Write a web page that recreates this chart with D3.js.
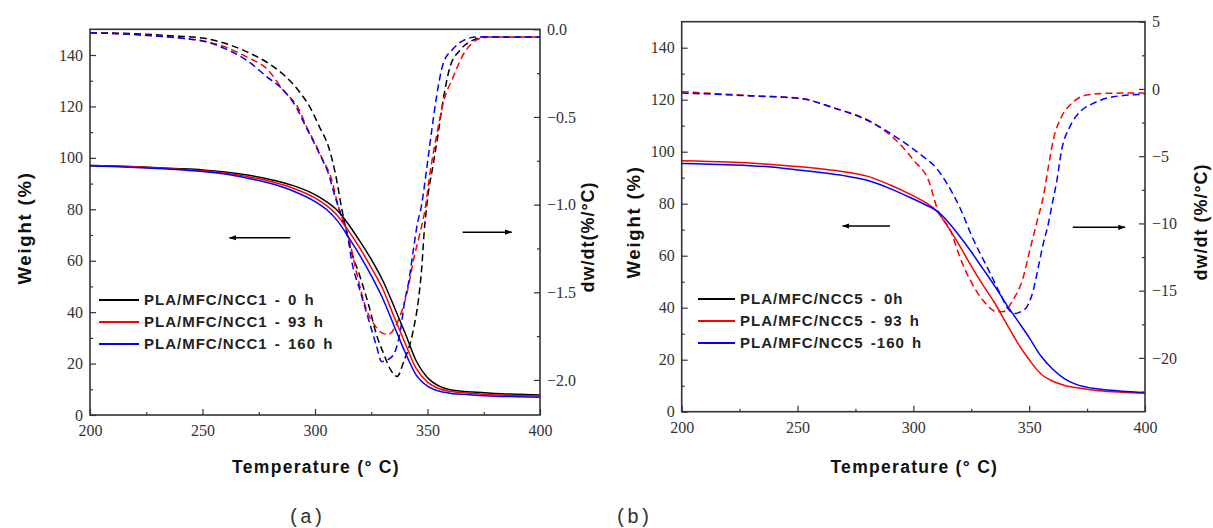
<!DOCTYPE html>
<html>
<head>
<meta charset="utf-8">
<script src="https://cdn.jsdelivr.net/npm/d3@7"></script>
<style>
  body { margin: 0; background: #fff; }
  svg { display: block; }
</style>
</head>
<body>
<svg id="chart" width="1213" height="528"></svg>
<script>
// ---- axis ticks ----
const tempTicks = [200, 250, 300, 350, 400];
const tempMinorTicks = [225, 275, 325, 375];
const weightTicks = [0, 20, 40, 60, 80, 100, 120, 140];
const weightMinorTicks = [10, 30, 50, 70, 90, 110, 130];
const dtgTicksA = [0, -0.5, -1.0, -1.5, -2.0];
const dtgMinorTicksA = [-0.25, -0.75, -1.25, -1.75];
const dtgTicksB = [5, 0, -5, -10, -15, -20];
const dtgMinorTicksB = [2.5, -2.5, -7.5, -12.5, -17.5, -22.5];

// ---- legend labels ----
const legendA = ["PLA/MFC/NCC1 - 0 h", "PLA/MFC/NCC1 - 93 h", "PLA/MFC/NCC1 - 160 h"];
const legendB = ["PLA/MFC/NCC5 - 0h", "PLA/MFC/NCC5 - 93 h", "PLA/MFC/NCC5 -160 h"];

// ---- (a) PLA/MFC/NCC1 : weight (%) vs temperature (°C) ----
const a_weight_0h = [[200,97],[210,96.8],[220,96.5],[230,96.2],[240,95.8],[250,95.3],[260,94.5],[270,93.3],[280,91.6],[290,89.3],[300,85.7],[305,83],[310,79.5],[315,74],[320,67.5],[325,60.5],[330,52.5],[335,42.5],[340,32],[345,21],[350,14.5],[355,11.3],[360,9.8],[370,8.9],[380,8.4],[390,8.1],[400,7.8]];
const a_weight_93h = [[200,97],[210,96.8],[220,96.5],[230,96.1],[240,95.6],[250,95.0],[260,94.1],[270,92.7],[280,90.9],[290,88.3],[300,84.4],[305,81.5],[310,77.5],[315,71.5],[320,64.8],[325,57.3],[330,49.3],[335,38.5],[340,28],[345,18],[350,12.8],[355,10.3],[360,9.2],[370,8.4],[380,7.9],[390,7.6],[400,7.4]];
const a_weight_160h = [[200,96.8],[210,96.6],[220,96.3],[230,95.9],[240,95.4],[250,94.7],[260,93.7],[270,92.1],[280,90.1],[290,87.2],[300,83],[305,80],[310,75.5],[315,69],[320,62],[325,54.2],[330,45.5],[335,35],[340,24.5],[345,15.5],[350,11.2],[355,9.3],[360,8.5],[370,7.8],[380,7.3],[390,7.1],[400,6.9]];

// ---- (a) derivative dw/dt (%/°C) ----
const a_dtg_0h = [[200,-0.02],[220,-0.025],[240,-0.04],[250,-0.05],[260,-0.08],[270,-0.13],[280,-0.2],[287,-0.27],[293,-0.355],[298,-0.45],[302,-0.557],[306,-0.67],[309,-0.82],[312,-1.03],[316,-1.26],[320,-1.41],[324,-1.58],[327.5,-1.75],[330.5,-1.85],[333.5,-1.94],[336.5,-1.98],[339.3,-1.9],[343.7,-1.715],[346,-1.54],[347.5,-1.35],[348.5,-1.16],[349.8,-0.99],[352.6,-0.765],[354.8,-0.59],[357,-0.40],[360,-0.215],[364.4,-0.12],[370,-0.063],[376,-0.044],[400,-0.044]];
const a_dtg_93h = [[200,-0.02],[220,-0.03],[240,-0.05],[250,-0.065],[260,-0.1],[270,-0.16],[279,-0.23],[286,-0.35],[292.6,-0.45],[296.3,-0.557],[300,-0.65],[303.7,-0.75],[306.7,-0.83],[310.4,-1.01],[315.6,-1.22],[318.5,-1.39],[322.9,-1.6],[326.7,-1.69],[329.5,-1.73],[332.5,-1.74],[337,-1.66],[341.5,-1.47],[343.7,-1.32],[346.7,-1.16],[349,-1.02],[351.1,-0.82],[354,-0.61],[357,-0.42],[361.5,-0.27],[365.2,-0.16],[369,-0.09],[373.3,-0.053],[380,-0.044],[400,-0.044]];
const a_dtg_160h = [[200,-0.02],[220,-0.03],[240,-0.05],[250,-0.067],[260,-0.11],[270,-0.18],[278.5,-0.27],[286.7,-0.357],[291.9,-0.45],[295.6,-0.547],[299.3,-0.64],[303,-0.737],[305.9,-0.82],[308.9,-0.955],[311.1,-1.04],[314.8,-1.2],[316.3,-1.32],[320,-1.49],[324.4,-1.68],[327.4,-1.81],[329.6,-1.895],[334,-1.87],[337.8,-1.73],[340,-1.54],[341.5,-1.45],[343.7,-1.26],[345.2,-1.13],[347.4,-1.0],[349.6,-0.80],[351.9,-0.575],[354,-0.385],[357,-0.195],[361.5,-0.11],[366,-0.063],[372,-0.044],[400,-0.044]];

// ---- (b) PLA/MFC/NCC5 : weight (%) vs temperature (°C) ----
const b_weight_93h = [[200,96.5],[220,96],[240,95],[250,94.3],[260,93.4],[270,92.3],[280,90.6],[290,87.2],[300,83],[305,80.6],[310,77.2],[315,71],[320,63.8],[325,56],[330,48.8],[335,42],[340,34.2],[345,26.5],[350,20],[355,14.6],[360,11.8],[365,10.2],[372,9],[380,8.1],[390,7.5],[400,7.1]];
const b_weight_160h = [[200,95.5],[220,95],[240,94],[250,93],[260,92],[270,90.8],[280,89],[290,85.8],[300,81.8],[305,79.7],[310,77.3],[315,73],[320,67.5],[325,61.5],[330,55],[335,48.5],[340,41.5],[345,35],[350,28.5],[355,21.5],[360,16.5],[365,12.8],[370,10.6],[380,8.7],[390,7.9],[400,7.4]];

// ---- (b) derivative dw/dt (%/°C) ----
const b_dtg_93h = [[200,-0.2],[215,-0.35],[230,-0.5],[251,-0.7],[265,-1.37],[282.7,-2.55],[294.2,-4.1],[300,-5.28],[307,-7.0],[310,-8.75],[316.5,-10.73],[320,-12.47],[324.5,-14.2],[330,-15.7],[336,-16.56],[339,-16.55],[343,-15.7],[347.5,-13.96],[350.3,-11.97],[353.2,-9.99],[356.1,-8.0],[358.3,-5.78],[360.4,-3.8],[364,-2.06],[368.4,-1.07],[374.8,-0.45],[383.5,-0.32],[400,-0.3]];
const b_dtg_160h = [[200,-0.3],[215,-0.4],[230,-0.52],[251,-0.7],[265,-1.37],[282.7,-2.55],[294,-3.75],[304,-5.0],[310,-5.9],[314.4,-7.0],[320,-8.8],[325.9,-11.2],[331.7,-13.2],[337.4,-15.2],[340.3,-16.2],[343.5,-16.7],[346,-16.6],[349,-16.2],[351.8,-14.95],[354,-13.2],[356.1,-11.5],[358.3,-10.0],[360,-8.5],[362,-6.77],[364,-4.54],[367.6,-2.8],[372,-1.69],[377.7,-1.07],[386.3,-0.58],[400,-0.4]];

// ---- direction arrows (temperature from, temperature to, weight level) ----
const arrowsA = [[289, 262, 68.9], [365.6, 387.4, 71.1]];
const arrowsB = [[289.9, 269.5, 71.4], [368.8, 391.4, 70.9]];

const seriesColors = ["#000000", "#ff0000", "#0000ff"];

const svg = d3.select("#chart");

const defs = svg.append("defs");
defs.append("marker")
  .attr("id", "head")
  .attr("viewBox", "0 0 10 10")
  .attr("refX", 9).attr("refY", 5)
  .attr("markerWidth", 5).attr("markerHeight", 5)
  .attr("markerUnits", "strokeWidth")
  .attr("orient", "auto")
  .append("path").attr("d", "M0,1.5 L10,5 L0,8.5 Z").attr("fill", "#000");

const tickFont = "'Liberation Serif', serif";
const titleFont = "'Liberation Sans', Arial, sans-serif";

function drawPanel(p) {
  const g = svg.append("g");
  const x = d3.scaleLinear().domain([200, 400]).range([p.left, p.right]);
  const yW = d3.scaleLinear().domain([0, 150]).range([p.bottom, p.top]);
  const yD = d3.scaleLinear().domain(p.dtgDomain).range([p.bottom, p.top]);

  const clipId = "clip" + p.name;
  defs.append("clipPath").attr("id", clipId)
    .append("rect").attr("x", p.left).attr("y", p.top)
    .attr("width", p.right - p.left).attr("height", p.bottom - p.top);

  const plot = g.append("g").attr("clip-path", `url(#${clipId})`);

  const lineW = d3.line().x(d => x(d[0])).y(d => yW(d[1])).curve(d3.curveMonotoneX);
  const lineD = d3.line().x(d => x(d[0])).y(d => yD(d[1])).curve(d3.curveMonotoneX);

  p.dtg.forEach(s => {
    plot.append("path").datum(s.data)
      .attr("d", lineD).attr("fill", "none")
      .attr("stroke", seriesColors[s.c]).attr("stroke-width", 1.5)
      .attr("stroke-dasharray", "7,4");
  });
  p.weight.forEach(s => {
    plot.append("path").datum(s.data)
      .attr("d", lineW).attr("fill", "none")
      .attr("stroke", seriesColors[s.c]).attr("stroke-width", 1.5);
  });

  // axes with inward ticks
  const styleAxis = sel => {
    sel.select(".domain").remove();
    sel.selectAll(".tick line").attr("stroke", "#333").attr("stroke-width", 1.2);
    sel.selectAll(".tick text").attr("fill", "#333")
      .style("font-family", tickFont).style("font-size", "16px");
  };

  g.append("g").attr("transform", `translate(0,${p.bottom})`)
    .call(d3.axisBottom(x).tickValues(tempTicks).tickSize(-6).tickPadding(10).tickFormat(d3.format("d")))
    .call(styleAxis);
  g.append("g").attr("transform", `translate(0,${p.bottom})`)
    .call(d3.axisBottom(x).tickValues(tempMinorTicks).tickSize(-3).tickFormat(""))
    .call(styleAxis);

  g.append("g").attr("transform", `translate(${p.left},0)`)
    .call(d3.axisLeft(yW).tickValues(weightTicks).tickSize(-6).tickPadding(7).tickFormat(d3.format("d")))
    .call(styleAxis);
  g.append("g").attr("transform", `translate(${p.left},0)`)
    .call(d3.axisLeft(yW).tickValues(weightMinorTicks).tickSize(-3).tickFormat(""))
    .call(styleAxis);

  g.append("g").attr("transform", `translate(${p.right},0)`)
    .call(d3.axisRight(yD).tickValues(p.dtgTicks).tickSize(-6).tickPadding(7).tickFormat(p.dtgFormat))
    .call(styleAxis);
  g.append("g").attr("transform", `translate(${p.right},0)`)
    .call(d3.axisRight(yD).tickValues(p.dtgMinor).tickSize(-3).tickFormat(""))
    .call(styleAxis);

  // frame
  g.append("rect")
    .attr("x", p.left).attr("y", p.top)
    .attr("width", p.right - p.left).attr("height", p.bottom - p.top)
    .attr("fill", "none").attr("stroke", "#333").attr("stroke-width", 1.6);

  // legend
  const lg = g.append("g");
  p.legend.forEach((label, i) => {
    const ly = p.legendY + i * 22;
    lg.append("line")
      .attr("x1", p.legendX).attr("x2", p.legendX + p.legendLen)
      .attr("y1", ly).attr("y2", ly)
      .attr("stroke", seriesColors[i]).attr("stroke-width", 1.8);
    lg.append("text")
      .attr("x", p.legendX + p.legendLen + 5).attr("y", ly)
      .attr("dy", "0.36em")
      .style("font-family", titleFont).style("font-weight", "bold")
      .style("font-size", "15px").style("letter-spacing", "1px")
      .style("word-spacing", "2px")
      .attr("fill", "#222")
      .text(label);
  });

  // direction arrows
  p.arrows.forEach(a => {
    g.append("line")
      .attr("x1", x(a[0])).attr("x2", x(a[1]))
      .attr("y1", yW(a[2])).attr("y2", yW(a[2]))
      .attr("stroke", "#000").attr("stroke-width", 1.5)
      .attr("marker-end", "url(#head)");
  });

  // axis titles
  const cx = (p.left + p.right) / 2;
  g.append("text")
    .attr("x", cx + 1).attr("y", 473)
    .attr("text-anchor", "middle")
    .style("font-family", titleFont).style("font-weight", "bold")
    .style("font-size", "17.5px").style("letter-spacing", "1.3px")
    .attr("fill", "#111")
    .text("Temperature (° C)");

  g.append("text")
    .attr("transform", `translate(${p.wTitleX},${p.wTitleY}) rotate(-90)`)
    .attr("text-anchor", "middle")
    .style("font-family", titleFont).style("font-weight", "bold")
    .style("font-size", "18.5px").style("letter-spacing", "1.8px")
    .attr("fill", "#111")
    .text("Weight (%)");

  g.append("text")
    .attr("transform", `translate(${p.dTitleX},${p.dTitleY}) rotate(-90)`)
    .attr("text-anchor", "middle")
    .style("font-family", titleFont).style("font-weight", "bold")
    .style("font-size", "18px").style("letter-spacing", "1px")
    .attr("fill", "#111")
    .text(p.dTitle);

  g.append("text")
    .attr("x", p.tagX).attr("y", 523)
    .attr("text-anchor", "middle")
    .style("font-family", "'Liberation Mono', monospace")
    .style("font-size", "20px")
    .attr("fill", "#333")
    .text(p.tag);
}

drawPanel({
  name: "a",
  left: 90, right: 540, top: 29.3, bottom: 415,
  dtgDomain: [-2.2, 0],
  dtgTicks: dtgTicksA, dtgMinor: dtgMinorTicksA, dtgFormat: d3.format(".1f"),
  weight: [{data: a_weight_0h, c: 0}, {data: a_weight_93h, c: 1}, {data: a_weight_160h, c: 2}],
  dtg: [{data: a_dtg_0h, c: 0}, {data: a_dtg_93h, c: 1}, {data: a_dtg_160h, c: 2}],
  legend: legendA, legendX: 99, legendLen: 40, legendY: 300,
  arrows: arrowsA,
  wTitleX: 31, wTitleY: 228,
  dTitleX: 594, dTitleY: 237, dTitle: "dw/dt(%/°C)",
  tagX: 306, tag: "(a)"
});

drawPanel({
  name: "b",
  left: 681.7, right: 1145, top: 21.7, bottom: 411.7,
  dtgDomain: [-24, 5],
  dtgTicks: dtgTicksB, dtgMinor: dtgMinorTicksB, dtgFormat: d3.format("d"),
  weight: [{data: b_weight_93h, c: 1}, {data: b_weight_160h, c: 2}],
  dtg: [{data: b_dtg_93h, c: 1}, {data: b_dtg_160h, c: 2}],
  legend: legendB, legendX: 698, legendLen: 37, legendY: 299,
  arrows: arrowsB,
  wTitleX: 640, wTitleY: 222,
  dTitleX: 1207, dTitleY: 222, dTitle: "dw/dt (%/°C)",
  tagX: 633, tag: "(b)"
});
</script>
</body>
</html>
